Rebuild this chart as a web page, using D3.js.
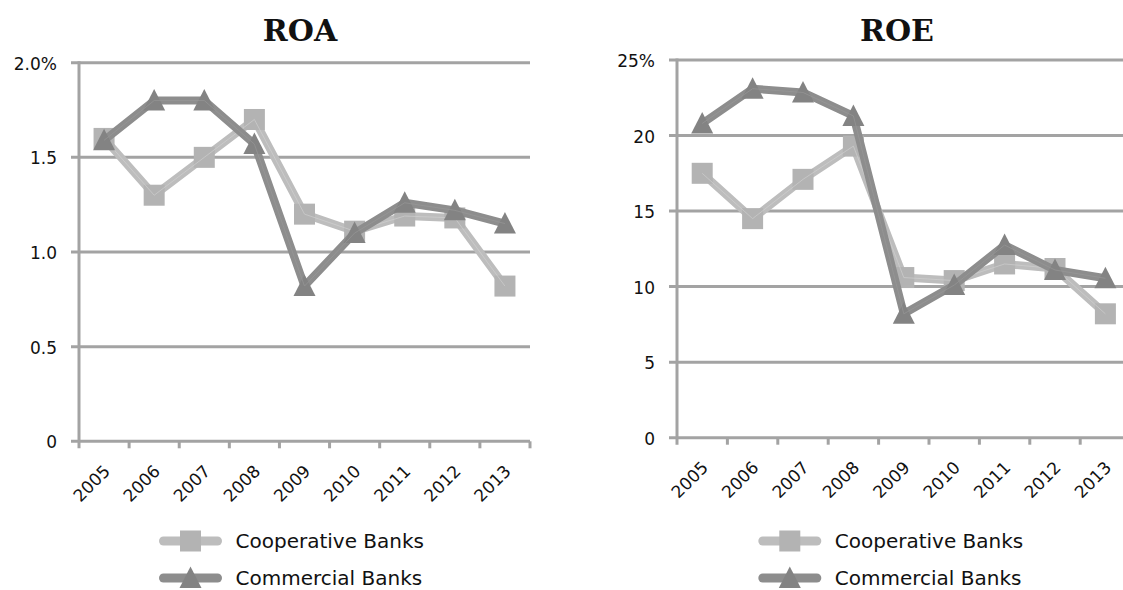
<!DOCTYPE html>
<html>
<head>
  <title>ROA / ROE</title>
  <style>
    body {
      margin: 0;
      background: #fff;
    }
    svg text {
      font-family: "DejaVu Sans", Verdana, sans-serif;
      fill: #111;
    }
    .title {
      font-family: "DejaVu Serif", serif !important;
      font-weight: bold;
      font-size: 30px;
    }
  </style>
</head>
<body>
  <svg id="chart" width="1123" height="590"></svg>

  <script src="https://d3js.org/d3.v7.min.js"></script>
  <script>
    // Data
    const years = ["2005", "2006", "2007", "2008", "2009", "2010", "2011", "2012", "2013"];
    const seriesNames = ["Cooperative Banks", "Commercial Banks"];

    const roaCoop = [1.60, 1.30, 1.50, 1.70, 1.20, 1.11, 1.19, 1.18, 0.82];
    const roaComm = [1.59, 1.80, 1.80, 1.57, 0.82, 1.10, 1.26, 1.22, 1.15];
    const roaTicks = [0, 0.5, 1.0, 1.5, 2.0];
    const roaTickLabels = ["0", "0.5", "1.0", "1.5", "2.0%"];

    const roeCoop = [17.5, 14.5, 17.1, 19.3, 10.6, 10.4, 11.5, 11.2, 8.2];
    const roeComm = [20.8, 23.1, 22.85, 21.3, 8.2, 10.1, 12.75, 11.1, 10.55];
    const roeTicks = [0, 5, 10, 15, 20, 25];
    const roeTickLabels = ["0", "5", "10", "15", "20", "25%"];

    const svg = d3.select("#chart");

    // Look of the two series
    const coopStyle = { line: "#bdbdbd", marker: "#b3b3b3", shape: "square" };
    const commStyle = { line: "#8d8d8d", marker: "#838383", shape: "triangle" };
    const gridColor = "#a3a3a3";

    function marker(g, shape, x, y, fill) {
      if (shape === "square") {
        g.append("rect")
          .attr("x", x - 10.5).attr("y", y - 10.5)
          .attr("width", 21).attr("height", 21)
          .attr("fill", fill);
      } else {
        g.append("path")
          .attr("d", `M${x},${y - 11.5} L${x + 11},${y + 10} L${x - 11},${y + 10} Z`)
          .attr("fill", fill);
      }
    }

    function drawPanel(opt) {
      const g = svg.append("g");

      const x = d3.scaleBand()
        .domain(years)
        .range([opt.left, opt.right])
        .padding(0);

      const y = d3.scaleLinear()
        .domain([0, d3.max(opt.ticks)])
        .range([opt.bottom, opt.top]);

      // Horizontal gridlines (they stick out left as tick marks)
      g.selectAll(".grid")
        .data(opt.ticks)
        .enter().append("line")
        .attr("x1", opt.left - 8)
        .attr("x2", opt.right)
        .attr("y1", d => y(d))
        .attr("y2", d => y(d))
        .attr("stroke", gridColor)
        .attr("stroke-width", 3);

      // y axis line
      g.append("line")
        .attr("x1", opt.left).attr("x2", opt.left)
        .attr("y1", opt.top - 1.5).attr("y2", opt.bottom + 7)
        .attr("stroke", gridColor)
        .attr("stroke-width", 3);

      // x tick marks at band edges
      const edges = years.map(d => x(d)).concat([opt.right]);
      g.selectAll(".xtick")
        .data(edges.slice(1))
        .enter().append("line")
        .attr("x1", d => d).attr("x2", d => d)
        .attr("y1", opt.bottom).attr("y2", opt.bottom + 7)
        .attr("stroke", gridColor)
        .attr("stroke-width", 3);

      // y tick labels
      g.selectAll(".ylab")
        .data(opt.ticks)
        .enter().append("text")
        .attr("x", opt.left - 22)
        .attr("y", d => y(d))
        .attr("dy", "0.42em")
        .attr("text-anchor", "end")
        .style("font-size", "17px")
        .text((d, i) => opt.tickLabels[i]);

      // x tick labels, rotated
      g.selectAll(".xlab")
        .data(years)
        .enter().append("text")
        .attr("transform", d => `translate(${x(d) + x.bandwidth() / 2 + 7},${opt.bottom + 31}) rotate(-45)`)
        .attr("text-anchor", "end")
        .style("font-size", "17px")
        .text(d => d);

      // Title
      g.append("text")
        .attr("class", "title")
        .attr("x", opt.titleX)
        .attr("y", 41)
        .attr("text-anchor", "middle")
        .text(opt.title);

      const line = d3.line()
        .x((d, i) => x(years[i]) + x.bandwidth() / 2)
        .y(d => y(d));

      // Cooperative first, Commercial on top
      [[opt.coop, coopStyle], [opt.comm, commStyle]].forEach(([vals, st]) => {
        g.append("path")
          .datum(vals)
          .attr("d", line)
          .attr("fill", "none")
          .attr("stroke", st.line)
          .attr("stroke-width", 8)
          .attr("stroke-linejoin", "round")
          .attr("stroke-linecap", "round");
        vals.forEach((v, i) => {
          marker(g, st.shape, x(years[i]) + x.bandwidth() / 2, y(v), st.marker);
        });
        // faint highlight along the line
        g.append("path")
          .datum(vals)
          .attr("d", line)
          .attr("fill", "none")
          .attr("stroke", st === coopStyle ? "#d2d2d2" : "#9a9a9a")
          .attr("stroke-width", 1)
          .attr("opacity", 0.6);
      });

      // Legend
      const lx = (opt.left + opt.right) / 2 - 145;
      [coopStyle, commStyle].forEach((st, i) => {
        const ly = 541 + i * 37;
        g.append("line")
          .attr("x1", lx + 4).attr("x2", lx + 58)
          .attr("y1", ly).attr("y2", ly)
          .attr("stroke", st.line)
          .attr("stroke-width", 9)
          .attr("stroke-linecap", "round");
        marker(g, st.shape, lx + 31, ly, st.marker);
        g.append("text")
          .attr("x", lx + 76)
          .attr("y", ly)
          .attr("dy", "0.36em")
          .style("font-size", "20px")
          .text(seriesNames[i]);
      });
    }

    drawPanel({
      title: "ROA", titleX: 300,
      left: 79, right: 530, top: 62.7, bottom: 441.3,
      ticks: roaTicks, tickLabels: roaTickLabels,
      coop: roaCoop, comm: roaComm
    });

    drawPanel({
      title: "ROE", titleX: 897,
      left: 677, right: 1130.6, top: 60, bottom: 437.7,
      ticks: roeTicks, tickLabels: roeTickLabels,
      coop: roeCoop, comm: roeComm
    });
  </script>
</body>
</html>
